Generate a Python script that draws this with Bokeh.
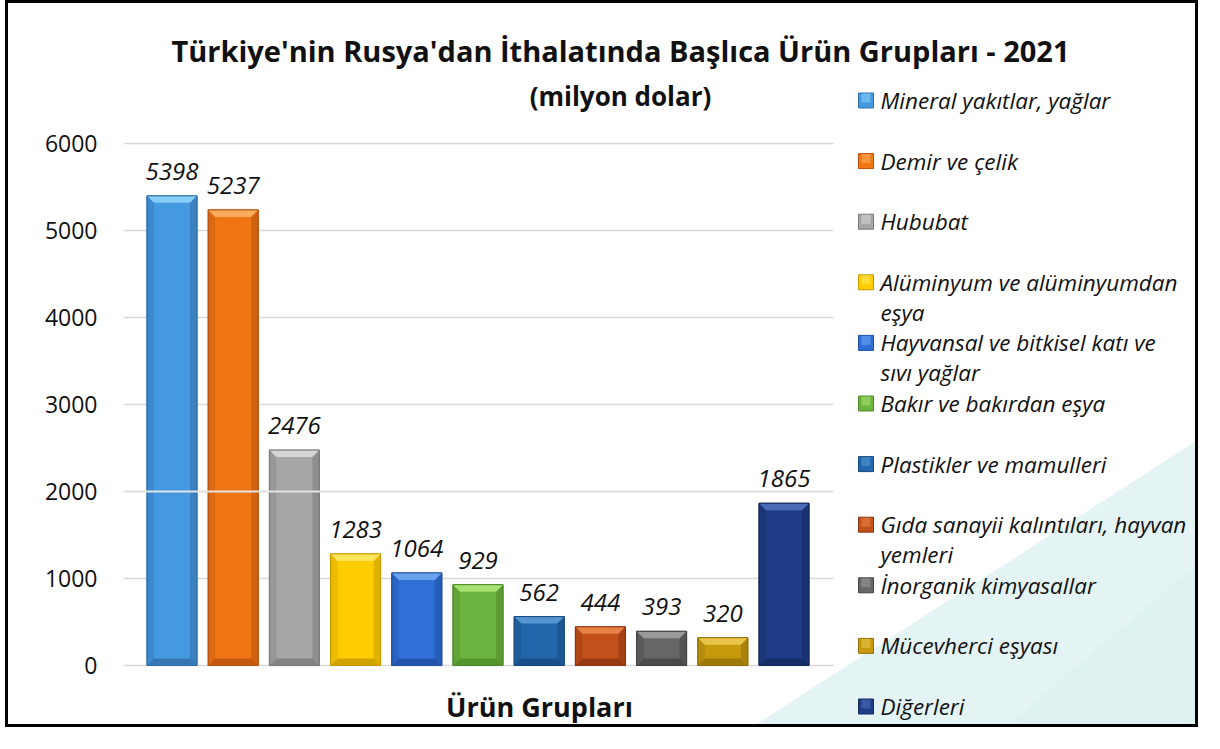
from bokeh.plotting import figure
from bokeh.models import Range1d, FixedTicker, ColumnDataSource
from bokeh.core.properties import value
from bokeh.embed import file_html
from bokeh.resources import INLINE

# ---------------- data ----------------
categories = [
    "Mineral yakıtlar, yağlar",
    "Demir ve çelik",
    "Hububat",
    "Alüminyum ve alüminyumdan\neşya",
    "Hayvansal ve bitkisel katı ve\nsıvı yağlar",
    "Bakır ve bakırdan eşya",
    "Plastikler ve mamulleri",
    "Gıda sanayii kalıntıları, hayvan\nyemleri",
    "İnorganik kimyasallar",
    "Mücevherci eşyası",
    "Diğerleri",
]
values = [5398, 5237, 2476, 1283, 1064, 929, 562, 444, 393, 320, 1865]
base_colors = ["#4599e0", "#f07515", "#a6a6a6", "#ffcc00", "#2f6fd6", "#6db33f",
               "#2267ab", "#c2501a", "#666666", "#c79a0e", "#1f3d87"]
light_colors = ["#86cdf5", "#ffab5e", "#d6d6d6", "#ffe45c", "#69a3f0", "#a6e070",
                "#5596d2", "#e68243", "#9a9a9a", "#e8c44a", "#4a6cb8"]
dark_colors = ["#2f6ea8", "#b8520c", "#7a7a7a", "#c49a00", "#1f4fa0", "#4e8a2a",
               "#174a80", "#8c3510", "#444444", "#93700a", "#142a60"]
y_ticks = [0, 1000, 2000, 3000, 4000, 5000, 6000]
title_lines = ["Türkiye'nin Rusya'dan İthalatında Başlıca Ürün Grupları - 2021",
               "(milyon dolar)"]
x_title = "Ürün Grupları"

# ---------------- layout (picture pixels) ----------------
MARGIN_LEFT = 5
BORDER = 3
W, H = 1204 - MARGIN_LEFT - 2 * BORDER, 733 - 2 * BORDER
OX = MARGIN_LEFT + BORDER
OY = BORDER
FRAME_LEFT = 123
X0_PIX = 171.5        # centre of first bar
PX_PER_CAT = 61.2
Y0_PIX = 665.0        # value 0
PX_PER_K = 87.0
GRID_RIGHT = 833
BAR_W = 50 / PX_PER_CAT


def dx(px):
    return (px - X0_PIX) / PX_PER_CAT


def dy(py):
    return (Y0_PIX - py) / PX_PER_K * 1000.0


FONT = value("Open Sans")

p = figure(width=W, height=H, output_backend="svg", toolbar_location=None, tools="",
           x_range=Range1d(dx(FRAME_LEFT), dx(OX + W)),
           y_range=Range1d(dy(OY + H), dy(OY)),
           min_border_left=FRAME_LEFT - OX, min_border_right=0,
           min_border_top=0, min_border_bottom=0)
p.styles = {"border": f"{BORDER}px solid black", "margin-left": f"{MARGIN_LEFT}px"}
p.xaxis.visible = False
p.xgrid.visible = False
p.ygrid.visible = False
p.outline_line_color = None
p.background_fill_color = "white"
p.border_fill_color = "white"

yax = p.yaxis[0]
yax.ticker = FixedTicker(ticks=y_ticks)
yax.axis_line_color = None
yax.major_tick_line_color = None
yax.minor_tick_line_color = None
yax.major_tick_out = 0
yax.major_label_standoff = 26
yax.major_label_text_font = "Open Sans"
yax.major_label_text_font_size = "23px"
yax.major_label_text_color = "#111111"

# background decoration (teal wedge at bottom right)
p.patch([dx(OX + W), dx(OX + W), dx(746)], [dy(437), dy(OY + H), dy(OY + H)],
        fill_color="#e4f4f4", line_color=None)
p.patch([dx(OX + W), dx(OX + W), dx(1000)], [dy(560), dy(OY + H), dy(OY + H)],
        fill_color="#dbf0f0", line_color=None, fill_alpha=0.6)

# gridlines
gx0 = dx(FRAME_LEFT)
gx1 = dx(GRID_RIGHT)
p.segment(x0=[gx0] * len(y_ticks), x1=[gx1] * len(y_ticks), y0=y_ticks, y1=y_ticks,
          line_color="#d9d9d9", line_width=1.5)

# bars
idx = list(range(len(values)))
src = ColumnDataSource(dict(x=idx, top=values, color=base_colors, dark=dark_colors,
                            label=[str(v) for v in values]))
p.vbar(x="x", top="top", bottom=0, width=BAR_W, source=src,
       fill_color="color", line_color="dark", line_width=1)

# bevels
bx = 7 / PX_PER_CAT
by = 7 / PX_PER_K * 1000
top_xs, top_ys, bot_xs, bot_ys, l_xs, l_ys, r_xs, r_ys = [], [], [], [], [], [], [], []
for i, v in zip(idx, values):
    L, R = i - BAR_W / 2, i + BAR_W / 2
    top_xs.append([L, R, R - bx, L + bx]); top_ys.append([v, v, v - by, v - by])
    bot_xs.append([L, R, R - bx, L + bx]); bot_ys.append([0, 0, by, by])
    l_xs.append([L, L, L + bx, L + bx]); l_ys.append([0, v, v - by, by])
    r_xs.append([R, R, R - bx, R - bx]); r_ys.append([0, v, v - by, by])
p.patches(l_xs, l_ys, fill_color=dark_colors, fill_alpha=0.35, line_color=None)
p.patches(r_xs, r_ys, fill_color=dark_colors, fill_alpha=0.55, line_color=None)
p.patches(bot_xs, bot_ys, fill_color=dark_colors, fill_alpha=0.8, line_color=None)
p.patches(top_xs, top_ys, fill_color=light_colors, fill_alpha=1.0, line_color=None)
p.vbar(x="x", top="top", bottom=0, width=BAR_W, source=src,
       fill_color=None, line_color="dark", line_width=1)

# light line at 2000 drawn over the bars
p.segment(x0=[gx0], x1=[gx1], y0=[2000], y1=[2000], line_color="#e4e4e4", line_width=2)

# value labels
p.text(x="x", y="top", text="label", source=src, text_align="center",
       text_baseline="bottom", y_offset=-16, text_font=FONT, text_font_style="italic",
       text_font_size="24px", text_color="#111111")

# title
p.text(x=[dx(620), dx(620)], y=[dy(50), dy(95)], text=title_lines, text_align="center",
       text_baseline="middle", text_font=FONT, text_font_style="bold",
       text_font_size=["29px", "26px"], text_color="#111111")

# x axis title
p.text(x=[dx(539)], y=[dy(706)], text=[x_title], text_align="center",
       text_baseline="middle", text_font=FONT, text_font_style="bold",
       text_font_size="27px", text_color="#111111")

# legend
ROW0 = 100.0
ROW_STEP = 60.6
LINE_STEP = 30.0
sq_x, sq_y = [], []
tx, ty, tt = [], [], []
for i, cat in enumerate(categories):
    ry = ROW0 + i * ROW_STEP
    sq_x.append(dx(865.5)); sq_y.append(dy(ry))
    for j, line in enumerate(cat.split("\n")):
        tx.append(dx(880)); ty.append(dy(ry + j * LINE_STEP)); tt.append(line)
p.scatter(sq_x, sq_y, marker="square", size=15, fill_color=base_colors,
          line_color=dark_colors, line_width=1)
p.scatter(sq_x, [y + 2.5 / PX_PER_K * 1000 for y in sq_y], marker="square", size=9,
          fill_color=light_colors, line_color=None, fill_alpha=0.6)
p.text(x=tx, y=ty, text=tt, text_align="left", text_baseline="middle",
       text_font=FONT, text_font_style="italic", text_font_size="22.5px",
       text_color="#111111")

open("out.html", "w").write(file_html(p, INLINE))
